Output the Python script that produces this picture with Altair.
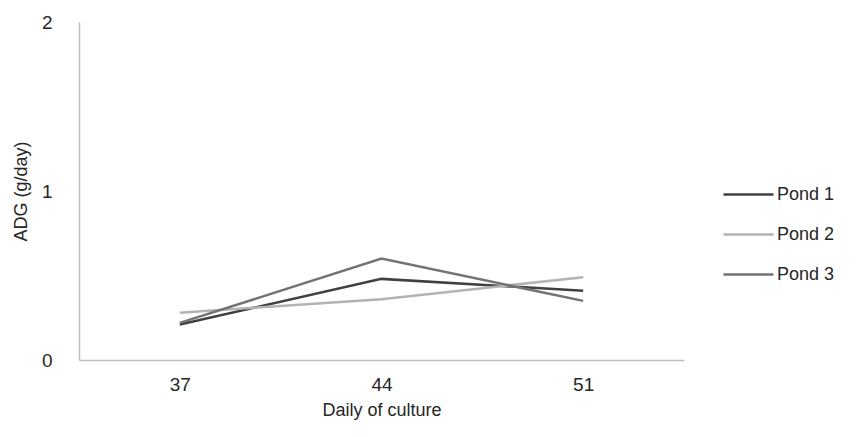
import altair as alt
import pandas as pd

days = ["37", "44", "51"]
pond1 = [0.21, 0.48, 0.41]
pond2 = [0.28, 0.36, 0.49]
pond3 = [0.22, 0.60, 0.35]
series = ["Pond 1", "Pond 2", "Pond 3"]
colors = ["#404040", "#b3b3b3", "#737373"]
y_ticks = [0, 1, 2]

rows = []
for name, vals in zip(series, [pond1, pond2, pond3]):
    for d, v in zip(days, vals):
        rows.append({"Day": d, "ADG": v, "Pond": name})
df = pd.DataFrame(rows)

FONT = "Liberation Sans"

chart = alt.Chart(df).mark_line(strokeWidth=2.5).encode(
    x=alt.X("Day:O", sort=days, title="Daily of culture",
            scale=alt.Scale(type="point", padding=0.5),
            axis=alt.Axis(labelAngle=0, ticks=False, domainColor="#bfbfbf",
                          domainWidth=1.5, labelPadding=15, titlePadding=7)),
    y=alt.Y("ADG:Q", title="ADG (g/day)",
            scale=alt.Scale(domain=[0, 2], nice=False),
            axis=alt.Axis(values=y_ticks, format=".0f", grid=False, ticks=False,
                          labelOverlap=False, labelFlush=False,
                          domainColor="#bfbfbf", domainWidth=1.5,
                          labelPadding=27, titlePadding=11)),
    color=alt.Color("Pond:N", sort=series,
                    scale=alt.Scale(domain=series, range=colors),
                    legend=alt.Legend(title=None, orient="none",
                                      legendX=643, legendY=146,
                                      symbolType="stroke", symbolSize=2500,
                                      symbolStrokeWidth=2.5, labelFontSize=18,
                                      labelFont=FONT, labelColor="#262626",
                                      rowPadding=4, labelOffset=2, padding=0)),
).properties(
    width=605, height=338,
    autosize=alt.AutoSizeParams(type="none"),
    padding={"left": 71, "top": 14, "right": 150, "bottom": 60},
).configure_axis(
    labelFont=FONT, titleFont=FONT, labelFontSize=19, titleFontSize=18,
    labelColor="#262626", titleColor="#262626", titleFontWeight="normal",
).configure_view(stroke=None)

chart.save("out.html", embed_options={"renderer": "svg", "actions": False})
